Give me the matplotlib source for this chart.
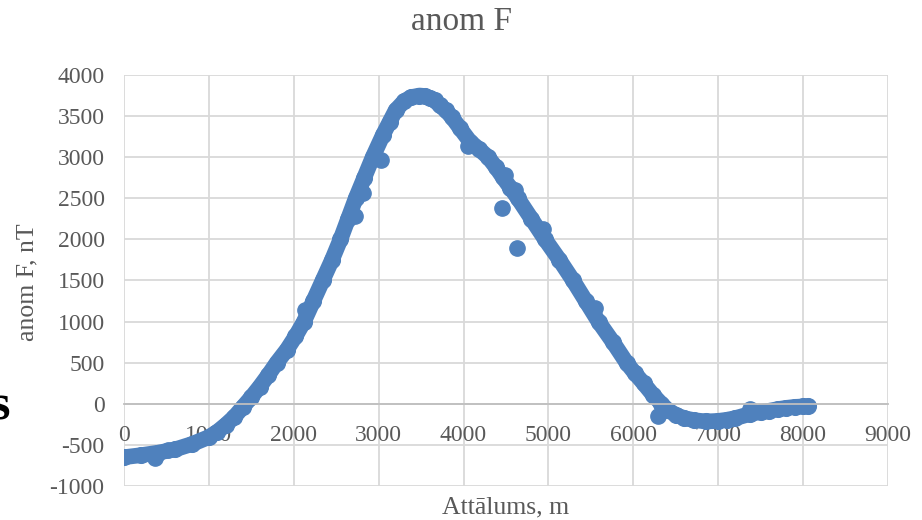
import matplotlib
matplotlib.use("Agg")
from matplotlib import pyplot as plt

dist = [0, 200, 400, 600, 800, 1000, 1100, 1200, 1300, 1400, 1500, 1600,
        1700, 1800, 1920, 2020, 2120, 2230, 2340, 2450, 2550, 2640, 2730,
        2830, 2930, 3050, 3130, 3200, 3300, 3380, 3480, 3540, 3600, 3660,
        3720, 3790, 3860, 3960, 4076, 4180, 4290, 4380, 4460, 4550, 4640,
        4800, 4960, 5130, 5290, 5440, 5590, 5760, 5920, 6020, 6120, 6230,
        6330, 6400, 6500, 6600, 6720, 6860, 7000, 7100, 7200, 7370, 7500,
        7600, 7700, 7800, 7900, 8000, 8060]
anom = [-650, -625, -595, -555, -490, -405, -340, -255, -160, -40, 80, 210,
        350, 500, 660, 820, 1000, 1250, 1500, 1750, 2000, 2250, 2500,
        2750, 3000, 3270, 3430, 3570, 3680, 3730, 3750, 3745, 3720, 3690,
        3630, 3570, 3490, 3350, 3190, 3100, 3000, 2880, 2760, 2630, 2500,
        2250, 2000, 1750, 1500, 1250, 1000, 750, 500, 370, 250, 110,
        0, -70, -135, -175, -200, -215, -208, -195, -175, -125, -100,
        -85, -65, -50, -38, -32, -30]

# scattered points off the band
odd_dist = [365, 520, 2132, 2720, 2820, 3030, 4052, 4450, 4488, 4606, 4630,
            4936, 5548, 6295, 7370]
odd_anom = [-660, -560, 1144, 2280, 2570, 2970, 3130, 2380, 2785, 2600, 1890,
            2130, 1170, -154, -65]

xticks = [0, 1000, 2000, 3000, 4000, 5000, 6000, 7000, 8000, 9000]
yticks = [-1000, -500, 0, 500, 1000, 1500, 2000, 2500, 3000, 3500, 4000]

blue = "#4F81BD"
grey = "#595959"
gridc = "#D9D9D9"

plt.rcParams["font.family"] = ["Liberation Serif", "DejaVu Serif"]
plt.rcParams["axes.unicode_minus"] = False

fig, ax = plt.subplots(figsize=(9.22, 5.2), dpi=100)
fig.subplots_adjust(left=0.1345, right=0.9631, top=0.8558, bottom=0.0654)

ax.plot(dist, anom, color=blue, lw=11.3, marker="o", ms=11.3,
        solid_capstyle="round", solid_joinstyle="round")
ax.plot(odd_dist, odd_anom, "o", color=blue, ms=11, linestyle="none")

ax.set_xlim(0, 9000)
ax.set_ylim(-1000, 4000)
ax.set_xticks(xticks)
ax.set_yticks(yticks)
ax.grid(True, color=gridc, lw=1.3)
ax.set_axisbelow(True)

for s in ["top", "right", "left"]:
    ax.spines[s].set_visible(False)
ax.spines["bottom"].set_position(("data", 0))
ax.spines["bottom"].set_color("#BFBFBF")
ax.spines["bottom"].set_linewidth(1.3)

ax.tick_params(axis="both", length=0, labelsize=17, labelcolor=grey)
ax.tick_params(axis="x", pad=15)
ax.tick_params(axis="y", pad=14)

fig.text(0.5, 1 - 22 / 520, "anom F", ha="center", va="center",
         fontsize=24, color=grey)
fig.text(27 / 922, 1 - 282 / 520, "anom F, nT", rotation=90, ha="center",
         va="center", fontsize=18.5, color=grey)
fig.text(506 / 922, 1 - 507 / 520, "Attālums, m", ha="center", va="center",
         fontsize=18.5, color=grey)
# cut-off letter at the left edge of the page
fig.text(10 / 922, 1 - 407 / 520, "s", ha="right", va="center",
         fontsize=36, fontweight="bold", color="black")

fig.savefig("out.png", dpi=100)
